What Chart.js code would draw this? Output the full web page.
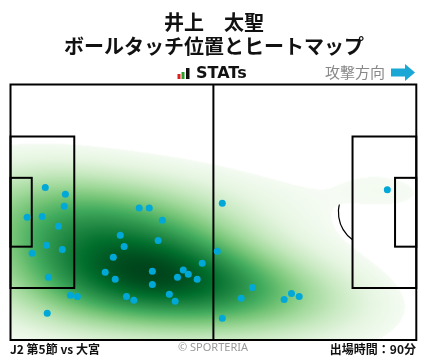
<!DOCTYPE html>
<html>
<head>
<meta charset="utf-8">
<script src="https://cdn.jsdelivr.net/npm/chart.js@4"></script>
<style>
  html, body { margin: 0; padding: 0; background: #fff; }
</style>
</head>
<body>
<canvas id="myChart" width="428" height="359"></canvas>
<script>
// touch positions in metres (x: own goal -> attack, y: top -> bottom)
const touchX = [9.0, 14.2, 13.9, 4.3, 8.2, 12.4, 9.3, 13.4, 5.6, 9.8, 15.5, 17.3, 9.5, 33.3, 35.9, 39.3, 28.4, 38.2, 29.4, 26.6,
                49.6, 24.5, 36.7, 44.7, 46.0, 27.1, 43.2, 48.3, 36.7, 30.0, 31.9, 41.1, 42.6, 54.8, 53.5, 62.6, 59.7, 70.8, 72.7, 74.7,
                54.8, 97.5];
const touchY = [27.4, 29.2, 32.4, 35.3, 35.1, 37.7, 42.8, 43.9, 44.9, 51.3, 56.1, 56.4, 60.9, 32.9, 32.9, 36.1, 40.1, 41.5, 43.1, 46.0,
                47.6, 50.0, 49.7, 49.4, 50.5, 51.8, 51.3, 51.8, 53.2, 56.4, 57.4, 55.8, 57.7, 31.6, 44.4, 54.0, 56.9, 57.2, 55.6, 56.4,
                62.2, 28.0];

const titleLines = ['井上　太聖', 'ボールタッチ位置とヒートマップ'];
const footerLeft = 'J2 第5節 vs 大宮';
const footerRight = '出場時間：90分';

const PITCH_L = 105, PITCH_W = 68;

// Greens colormap
const greens = [[247,252,245],[229,245,224],[199,233,192],[161,217,155],[116,196,118],[65,171,93],[35,139,69],[0,109,44],[0,68,27]];
function greenAt(t) {
  t = Math.max(0, Math.min(1, t)) * (greens.length - 1);
  const i = Math.min(Math.floor(t), greens.length - 2), f = t - i;
  const a = greens[i], b = greens[i + 1];
  return [a[0] + (b[0] - a[0]) * f, a[1] + (b[1] - a[1]) * f, a[2] + (b[2] - a[2]) * f];
}

// gaussian KDE from the touches
const bwAdjust = 1.5;
const n = touchX.length;
const mx = touchX.reduce((s, v) => s + v, 0) / n;
const my = touchY.reduce((s, v) => s + v, 0) / n;
let cxx = 0, cyy = 0, cxy = 0;
for (let i = 0; i < n; i++) {
  cxx += (touchX[i] - mx) ** 2; cyy += (touchY[i] - my) ** 2; cxy += (touchX[i] - mx) * (touchY[i] - my);
}
const fac = (Math.pow(n, -1 / 6) * bwAdjust) ** 2;
cxx = cxx / (n - 1) * fac; cyy = cyy / (n - 1) * fac; cxy = cxy / (n - 1) * fac;
const det = cxx * cyy - cxy * cxy;
const ixx = cyy / det, iyy = cxx / det, ixy = -cxy / det;
function density(x, y) {
  let s = 0;
  for (let i = 0; i < n; i++) {
    const dx = x - touchX[i], dy = y - touchY[i];
    s += Math.exp(-0.5 * (ixx * dx * dx + 2 * ixy * dx * dy + iyy * dy * dy));
  }
  return s;
}

// iso-proportion mapping (mass below a density value)
const thresh = 0.05;
const grid = [];
for (let x = -25; x <= 130; x += 0.5) for (let y = -20; y <= 88; y += 0.5) grid.push(density(x, y));
grid.sort((a, b) => a - b);
const cum = new Float64Array(grid.length);
let acc = 0;
for (let i = 0; i < grid.length; i++) { acc += grid[i]; cum[i] = acc; }
function isoProp(d) {
  let lo = 0, hi = grid.length - 1;
  while (lo < hi) { const m = (lo + hi + 1) >> 1; if (grid[m] <= d) lo = m; else hi = m - 1; }
  return cum[lo] / acc;
}

let heatCanvas = null;
function buildHeat(chart) {
  const a = chart.chartArea, xs = chart.scales.x, ys = chart.scales.y;
  const w = Math.round(a.right - a.left), h = Math.round(a.bottom - a.top);
  const c = document.createElement('canvas');
  c.width = w; c.height = h;
  const g = c.getContext('2d');
  const img = g.createImageData(w, h);
  for (let py = 0; py < h; py++) {
    const yv = ys.getValueForPixel(a.top + py + 0.5);
    for (let px = 0; px < w; px++) {
      const xv = xs.getValueForPixel(a.left + px + 0.5);
      const q = isoProp(density(xv, yv));
      const k = (py * w + px) * 4;
      if (q < thresh) { img.data[k + 3] = 0; continue; }
      const col = greenAt(Math.pow((q - thresh) / (1 - thresh), 0.8));
      img.data[k] = col[0]; img.data[k + 1] = col[1]; img.data[k + 2] = col[2]; img.data[k + 3] = 255;
    }
  }
  g.putImageData(img, 0, 0);
  return c;
}

const pitchPlugin = {
  id: 'pitch',
  beforeDatasetsDraw(chart) {
    const { ctx, chartArea: a, scales: { x, y } } = chart;
    const sx = (a.right - a.left) / PITCH_L, sy = (a.bottom - a.top) / PITCH_W;
    ctx.save();
    // arcs sit under the heatmap
    ctx.strokeStyle = '#000';
    ctx.lineWidth = 1.2;
    ctx.beginPath();
    ctx.ellipse(x.getPixelForValue(52.5), y.getPixelForValue(34), 9.15 * sx, 9.15 * sy, 0, 0, Math.PI * 2);
    ctx.stroke();
    const ang = Math.acos(5.5 / 9.15);
    ctx.beginPath();
    ctx.ellipse(x.getPixelForValue(11), y.getPixelForValue(34), 9.15 * sx, 9.15 * sy, 0, -ang, ang);
    ctx.stroke();
    ctx.beginPath();
    ctx.ellipse(x.getPixelForValue(94), y.getPixelForValue(34), 9.15 * sx, 9.15 * sy, 0, Math.PI - ang, Math.PI + ang);
    ctx.stroke();

    if (!heatCanvas) heatCanvas = buildHeat(chart);
    ctx.drawImage(heatCanvas, a.left, a.top);

    // straight lines
    ctx.lineWidth = 2;
    const rect = (x0, y0, x1, y1) => {
      const l = x.getPixelForValue(x0), r = x.getPixelForValue(x1);
      const t = y.getPixelForValue(y0), b = y.getPixelForValue(y1);
      ctx.strokeRect(l, t, r - l, b - t);
    };
    rect(0, 0, PITCH_L, PITCH_W);
    rect(0, 13.84, 16.5, 54.16);
    rect(0, 24.84, 5.5, 43.16);
    rect(PITCH_L - 16.5, 13.84, PITCH_L, 54.16);
    rect(PITCH_L - 5.5, 24.84, PITCH_L, 43.16);
    ctx.beginPath();
    ctx.moveTo(x.getPixelForValue(52.5), a.top);
    ctx.lineTo(x.getPixelForValue(52.5), a.bottom);
    ctx.stroke();
    ctx.restore();
  },
  afterDraw(chart) {
    const ctx = chart.ctx;
    ctx.save();
    ctx.textBaseline = 'middle';
    ctx.fillStyle = '#111';
    ctx.textAlign = 'center';
    ctx.font = 'bold 20px "Noto Sans CJK JP"';
    ctx.fillText(titleLines[0], 214, 22);
    ctx.fillText(titleLines[1], 214, 46);

    // STATs logo
    ctx.fillStyle = '#e02020'; ctx.fillRect(177.5, 74, 3, 5);
    ctx.fillStyle = '#2ca02c'; ctx.fillRect(181.5, 72, 3, 7);
    ctx.fillStyle = '#111'; ctx.fillRect(186, 68, 3.5, 11);
    ctx.textAlign = 'left';
    ctx.font = 'bold 16px "DejaVu Sans"';
    ctx.fillText('STATs', 196, 74);

    // attack direction
    ctx.fillStyle = '#888';
    ctx.font = '15px "Noto Sans CJK JP"';
    ctx.fillText('攻撃方向', 325, 72);
    ctx.fillStyle = '#1aa7d6';
    ctx.beginPath();
    ctx.moveTo(391, 68.5); ctx.lineTo(405, 68.5); ctx.lineTo(405, 64);
    ctx.lineTo(415, 72.5); ctx.lineTo(405, 81); ctx.lineTo(405, 76.5); ctx.lineTo(391, 76.5);
    ctx.closePath(); ctx.fill();

    // footer
    ctx.fillStyle = '#111';
    ctx.font = 'bold 12px "Noto Sans CJK JP"';
    ctx.fillText(footerLeft, 10, 349);
    ctx.textAlign = 'right';
    ctx.fillText(footerRight, 416, 349);
    ctx.textAlign = 'center';
    ctx.fillStyle = '#999';
    ctx.font = '11px "Noto Sans"';
    ctx.fillText('© SPORTERIA', 213, 348);
    ctx.restore();
  }
};

const ctx = document.getElementById('myChart').getContext('2d');
const myChart = new Chart(ctx, {
  type: 'scatter',
  data: {
    datasets: [{
      data: touchX.map((v, i) => ({ x: v, y: touchY[i] })),
      backgroundColor: '#00a8d8',
      borderWidth: 0,
      pointRadius: 3.5
    }]
  },
  options: {
    responsive: false,
    animation: false,
    layout: { padding: { left: 10.5, right: 11.7, top: 84.5, bottom: 19 } },
    scales: {
      x: { type: 'linear', min: 0, max: PITCH_L, display: false },
      y: { type: 'linear', min: 0, max: PITCH_W, reverse: true, display: false }
    },
    plugins: { legend: { display: false }, tooltip: { enabled: false } }
  },
  plugins: [pitchPlugin]
});
</script>
</body>
</html>
